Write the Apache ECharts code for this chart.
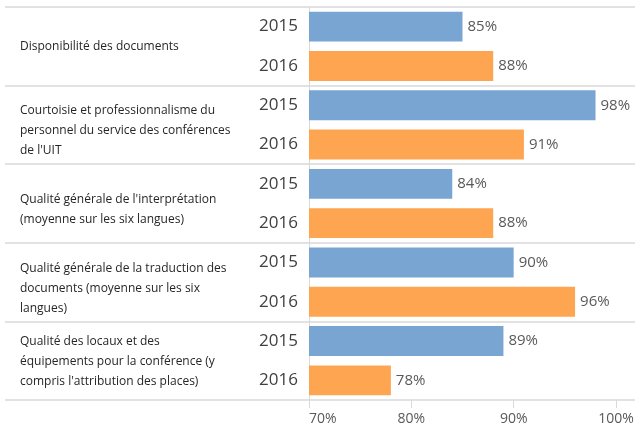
<!DOCTYPE html>
<html>
<head>
<meta charset="utf-8">
<script src="https://cdn.jsdelivr.net/npm/echarts@6/dist/echarts.min.js"></script>
<style>
  html, body { margin: 0; padding: 0; background: #ffffff; }
  #chart { width: 635px; height: 430px; }
</style>
</head>
<body>
<div id="chart"></div>
<script>
// Survey items (one group per item, two years each)
const groups = [
  "Disponibilité des documents",
  "Courtoisie et professionnalisme du\npersonnel du service des conférences\nde l'UIT",
  "Qualité générale de l'interprétation\n(moyenne sur les six langues)",
  "Qualité générale de la traduction des\ndocuments (moyenne sur les six\nlangues)",
  "Qualité des locaux et des\néquipements pour la conférence (y\ncompris l'attribution des places)"
];
const years = ["2015", "2016"];
const values2015 = [85, 98, 84, 90, 89];
const values2016 = [88, 91, 88, 96, 78];
const tickValues = [70, 80, 90, 100];

// Vertical nudge (px, downwards) for each group's text block
const groupLabelNudge = [0, 6, 6, 6, 1];

const colors = { "2015": "#79a5d2", "2016": "#fda550" };
const lineColor = "#d9d9d9";

// One category row per (item, year)
const rows = [];
const barData = [];
groups.forEach((g, i) => {
  years.forEach((y) => {
    rows.push(y);
    const v = y === "2015" ? values2015[i] : values2016[i];
    barData.push({ value: v, itemStyle: { color: colors[y] } });
  });
});

// Rich styles: an invisible spacer line on top pushes a centred block downwards
const groupRich = { r: { fontSize: 12, lineHeight: 20, color: '#262626' } };
groupLabelNudge.forEach((n, i) => {
  groupRich['s' + i] = { fontSize: 1, lineHeight: n * 2, color: 'rgba(0,0,0,0)' };
});
const groupFormatter = (value, idx) => {
  const lines = value.split('\n').map((line) => '{r|' + line + '}');
  if (groupLabelNudge[idx] > 0) lines.unshift('{s' + idx + '| }');
  return lines.join('\n');
};

const gridLeft = 309, gridTop = 7, gridBottom = 30;
// scale: 100% sits at x=616, grid runs to the right edge
const pxPerUnit = (616 - gridLeft) / 30;
const xMax = 70 + (635 - gridLeft) / pxPerUnit;

const chart = echarts.init(document.getElementById('chart'), null, { renderer: 'canvas' });
chart.setOption({
  animation: false,
  textStyle: { fontFamily: "Open Sans" },
  grid: {
    left: gridLeft, right: 0, top: gridTop, bottom: gridBottom,
    containLabel: false,
    outerBoundsMode: 'none'
  },
  xAxis: {
    type: 'value',
    min: 70,
    max: xMax,
    axisLine: { show: false },
    splitLine: { show: false },
    axisTick: { show: true, length: 8, customValues: tickValues, lineStyle: { color: lineColor, width: 1 } },
    axisLabel: {
      customValues: tickValues,
      formatter: (v) => v + '%',
      color: '#595959',
      fontSize: 14,
      margin: 12,
      alignMinLabel: 'left'
    }
  },
  yAxis: [
    {
      type: 'category',
      data: rows,
      inverse: true,
      axisLine: { show: true, lineStyle: { color: lineColor, width: 1 } },
      axisTick: { show: false },
      axisLabel: { color: '#404040', fontSize: 17, margin: 11 }
    },
    {
      type: 'category',
      data: groups,
      inverse: true,
      position: 'left',
      axisLine: { show: false },
      axisTick: { show: true, interval: 0, length: gridLeft - 5, lineStyle: { color: lineColor, width: 1.5 } },
      splitLine: { show: true, interval: 0, lineStyle: { color: lineColor, width: 1.5 } },
      axisLabel: {
        interval: 0,
        align: 'left',
        margin: gridLeft - 20,
        color: '#262626',
        fontSize: 12,
        lineHeight: 20,
        formatter: groupFormatter,
        rich: groupRich
      }
    }
  ],
  series: [
    {
      type: 'bar',
      yAxisIndex: 0,
      data: barData,
      barCategoryGap: '24%',
      label: {
        show: true,
        position: 'right',
        distance: 5,
        formatter: (p) => p.value + '%',
        color: '#595959',
        fontSize: 15
      }
    }
  ]
});
</script>
</body>
</html>
